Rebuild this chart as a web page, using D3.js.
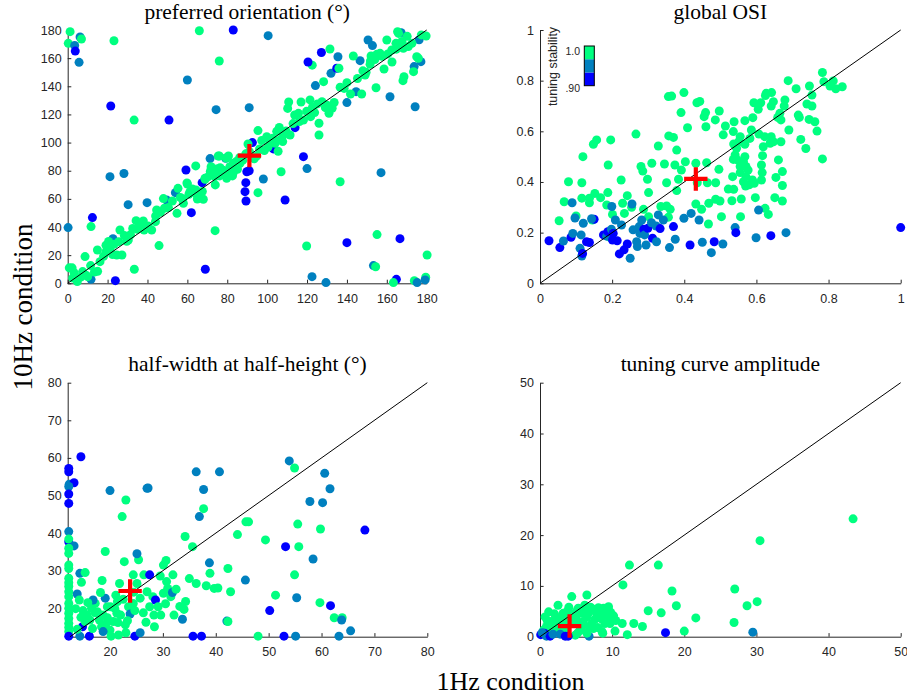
<!DOCTYPE html>
<html><head><meta charset="utf-8">
<script src="https://cdn.jsdelivr.net/npm/d3@7"></script>
<style>body{margin:0;background:#fff} svg{display:block}</style>
</head><body>
<svg id="c" width="907" height="695"></svg>
<script>
// stability bin: 0 = .90 (blue), 1 = mid, 2 = 1.0 (green)
const stabilityColors = ["#0000ff", "#0080bf", "#00ff80"];
const stabilityLabels = [".90", "1.0"];

// [1Hz value, 10Hz value, stability bin]
const prefOri = [
[1.2,178.8,2],[0.3,170.5,2],[3.5,169,1],[3.8,165,0],[6.2,175,1],[6.9,173.6,2],[5.7,157,1],[23.2,172.4,2],[66,179.5,2],[83,180,0],[100.5,176,1],[76,158,2],[60,144.5,1],[21.6,126,0],[50.8,116,0],[33.3,116,2],[74.4,123.4,1],[91,124.8,1],[21.2,75.8,1],[28.2,78,1],[30.3,55.9,1],[39.8,57.3,1],[12.4,46.7,0],[11.7,40.3,2],[0.2,39.6,1],[22.7,31.7,1],[23.9,1.9,0],[11.7,2.8,1],[33.4,10,2],[45.8,26.8,2],[73.9,37.4,2],[69,10,0],[62,50.2,0],[59.3,80.5,0],[54,64.4,1],[49.6,59.2,1],[67.4,71.5,0],[71.4,88.6,1],[89.3,71.5,0],[88.9,65.1,0],[89.4,58.5,0],[89.8,79.3,0],[91,80,0],[92.6,100,0],[98.1,74.1,1],[103.1,95.5,0],[114,110.6,0],[109,59.2,0],[95.4,64.4,2],[118.2,90,0],[120,81.5,1],[107,79.3,2],[124.2,140.5,1],[122.6,155,2],[120.5,157.3,0],[127.2,164,0],[132,149.2,1],[134.9,152.8,0],[136,152.8,2],[135.5,161,1],[131.5,166.5,2],[140,128.4,1],[144.6,136.2,1],[147.4,134.5,2],[146.6,158.2,1],[143.2,161.5,2],[150.6,172.9,1],[152.8,168.9,1],[161.6,132.6,1],[157.1,78.6,1],[136.6,72.2,2],[140,28.9,0],[119.8,26.5,2],[122.5,4.7,1],[129.5,0.5,1],[155.1,34.6,2],[153.3,12.6,1],[154.4,11.8,2],[166.6,31.7,0],[164.8,2.8,0],[163.3,0.5,2],[173.8,1.9,2],[175.2,0.5,1],[179.5,4.3,2],[179.2,2.4,1],[180.2,20.1,2],[174.2,125.5,1],[173.7,154,1],[173.4,150.4,2],[176.2,173,1],[177.1,157.5,1],[167.2,178.1,1],[165.9,177.6,2],[179.7,175.7,2],[84.8,82,0],[79.2,88.8,1],
[0.8,11,2],[2.2,11,2],[3.2,7.6,2],[4.8,1.2,2],[7.5,8.3,2],[9.2,5.7,2],[10,4.7,2],[8.7,19,2],[13.4,8,2],[15,8.5,2],[14.9,23.7,2],[16.2,15.4,2],[19.2,27,2],[19.2,22.5,2],[21.2,24.2,2],[23.2,27.7,2],[24.6,20.1,2],[27.2,20.1,2],[26.2,37.9,2],[28.4,33.9,2],[30.4,30.8,2],[32.6,39,2],[34.3,44.5,2],[34.9,38.4,2],[37.9,44.3,2],[38.3,37.9,2],[44,43.8,2],[44.6,52.1,2],[44.1,47.8,2],[48,60.2,2],[48.5,53.3,2],[54.8,49.7,2],[55.3,67.5,2],[58,56.8,2],[57.7,59.9,2],[60,70.6,2],[61.3,65.1,2],[64.2,83.4,2],[64.3,63.9,2],[65,59.9,2],[68,59.7,2],[68.9,73.9,2],[71.9,82.9,2],[73,80,2],[73.9,75.8,2],[74,69.9,2],[75.5,90.5,2],[76.4,82.2,2],[78,78.2,2],[79.7,74.6,2],[80.6,90.5,2],[82.6,76.3,2],[83,85.3,2],[85.1,81,2],[86.4,85.3,2],[90.4,99,2],[91.1,93.6,2],[94.8,90.5,2],[95.4,108.5,2],[98.6,94.3,2],[99.8,104.2,2],[101.5,100.7,2],[102.8,103,2],[105.5,93.8,2],[106.1,110.8,2],[107.8,100.7,2],[108.1,105.4,2],[109.5,108.2,2],[110.3,124.3,2],[110.8,128.8,2],[111.5,105.4,2],[113.8,119.6,2],[115.7,120.8,2],[117,128.8,2],[118.2,116,2],[121.5,130.3,2],[121.8,118.4,2],[122.7,125,2],[126,113.7,2],[126,105.4,2],[127.5,129,2],[129.2,124.8,2],[131,120.8,2],[128.3,143.3,2],[136.6,139.3,2],[140,142.6,2],[149.1,148,2],[149.6,150,2],[154.6,139,2],[152.1,161.5,2],[151.6,155.6,2],[155,162.7,2],[156.6,163.4,2],[158.6,152.3,2],[160,172.9,2],[162.5,165.8,2],[164.6,170.5,2],[166.6,169.8,2],[168.3,167,2],[170.8,168.2,2],[168.6,146.8,2],[168.1,144,2],[175.8,159.9,2],[175,161,2],[165.4,178.8,2],
[56.5,61,2],[59.8,71.3,2],[60.8,63.3,2],[62.5,67,2],[64.3,66.3,2],[65.8,62.3,2],[67.5,65.2,2],[68.8,74.6,2],[70.5,75.8,2],[71.5,79.5,2],[73.5,77.2,2],[74.6,81.3,2],[76.2,76.3,2],[77.9,80.3,2],[79.6,78.2,2],[81.3,82.8,2],[82.9,78.2,2],[84.5,86.5,2],[86.2,89.3,2],[87.8,87.5,2],[79.5,89,2],[76,90.5,2],[89.3,92,2],[93.5,88.5,2],[96.2,95.5,2],[97.3,101.5,2],[100.5,96.8,2],[104,99.5,2],[106.8,102.2,2],[104.8,108,2],[113,113.5,2],[116.2,115,2],[119.8,122.2,2],[123.8,121.3,2],[125.2,127.5,2],[130,126.5,2],[133.6,128.5,2],[132.6,124.4,2],[138.6,138.5,2],[141.8,134.5,2],[145.3,145.5,2],[148,151,2],[151.8,158,2],[154,159,2],[157.6,161.3,2],[160.5,163,2],[162.6,157.3,2],[164.8,166.4,2],[167.6,171.8,2],[170.2,175.5,2],[172.6,170.5,2],[177.3,176.5,2],[2.5,3.7,2],[6.5,4.4,2],[11.5,12.6,2],[18,19.2,2],[20.5,29.7,2],[22.5,20.5,2],[25.6,29.6,2],[29.6,29.8,2],[31.5,34.5,2],[36.5,41.8,2],[40.3,40.7,2],[42.1,37.9,2],[46.5,50.5,2],[50.5,53.8,2],[52.5,58.5,2]
];

const globalOSI = [
[0.783,0.832,2],[0.787,0.796,2],[0.813,0.799,2],[0.804,0.779,2],[0.820,0.768,2],[0.838,0.776,2],[0.688,0.8,2],[0.710,0.768,2],[0.747,0.779,2],[0.754,0.743,2],[0.627,0.75,2],[0.642,0.753,2],[0.625,0.741,2],[0.647,0.717,2],[0.641,0.7,2],[0.593,0.713,2],[0.612,0.713,2],[0.605,0.687,2],[0.679,0.724,2],[0.677,0.7,2],[0.740,0.708,2],[0.754,0.7,2],[0.716,0.664,2],[0.719,0.655,2],[0.746,0.647,2],[0.762,0.638,2],[0.768,0.601,2],[0.690,0.605,2],[0.665,0.671,2],[0.668,0.645,2],[0.659,0.655,2],[0.723,0.568,2],[0.737,0.532,2],[0.783,0.491,2],[0.399,0.753,2],[0.356,0.737,2],[0.365,0.739,2],[0.435,0.713,2],[0.443,0.718,2],[0.391,0.674,2],[0.459,0.674,2],[0.455,0.658,2],[0.409,0.614,2],[0.460,0.618,2],[0.486,0.645,2],[0.497,0.680,2],[0.514,0.621,2],[0.508,0.586,2],[0.538,0.638,2],[0.568,0.642,2],[0.590,0.654,2],[0.536,0.599,2],[0.555,0.579,2],[0.551,0.559,2],[0.568,0.549,2],[0.545,0.533,2],[0.537,0.55,2],[0.582,0.572,2],[0.607,0.589,2],[0.623,0.579,2],[0.641,0.579,2],[0.647,0.559,2],[0.668,0.559,2],[0.638,0.553,2],[0.586,0.605,2],[0.619,0.539,2],[0.617,0.504,2],[0.614,0.467,2],[0.616,0.437,2],[0.589,0.408,2],[0.594,0.395,2],[0.614,0.408,2],[0.580,0.389,2],[0.568,0.5,2],[0.564,0.48,2],[0.571,0.461,2],[0.577,0.447,2],[0.571,0.421,2],[0.564,0.401,2],[0.570,0.384,2],[0.541,0.507,2],[0.536,0.489,2],[0.547,0.487,2],[0.555,0.461,2],[0.555,0.437,2],[0.534,0.421,2],[0.522,0.372,2],[0.537,0.371,2],[0.532,0.326,2],[0.558,0.333,2],[0.556,0.263,2],[0.597,0.338,2],[0.624,0.296,2],[0.633,0.272,2],[0.651,0.338,2],[0.672,0.325,2],[0.672,0.386,2],[0.661,0.487,2],[0.672,0.441,2],[0.654,0.418,2],[0.496,0.45,2],[0.499,0.325,2],[0.487,0.332,2],[0.468,0.316,2],[0.487,0.397,2],[0.464,0.397,2],[0.462,0.476,2],[0.436,0.397,2],[0.432,0.474,2],[0.432,0.313,2],[0.448,0.292,2],[0.403,0.480,2],[0.392,0.447,2],[0.384,0.411,2],[0.379,0.366,2],[0.374,0.467,2],[0.357,0.582,2],[0.370,0.576,2],[0.379,0.526,2],[0.351,0.397,2],[0.345,0.471,2],[0.328,0.542,2],[0.310,0.474,2],[0.301,0.358,2],[0.298,0.411,2],[0.280,0.461,2],[0.285,0.443,2],[0.266,0.589,2],[0.242,0.346,2],[0.225,0.408,2],[0.229,0.316,2],[0.234,0.276,2],[0.254,0.3,2],[0.287,0.292,2],[0.335,0.303,2],[0.351,0.305,2],[0.361,0.292,2],[0.356,0.261,2],[0.467,0.234,2],[0.503,0.263,2],[0.196,0.566,2],[0.189,0.467,2],[0.188,0.358,2],[0.157,0.566,2],[0.148,0.549,2],[0.119,0.5,2],[0.116,0.397,2],[0.079,0.401,2],[0.067,0.322,2],[0.116,0.336,2],[0.137,0.318,2],[0.137,0.336,2],[0.152,0.355,2],[0.168,0.338,2],[0.185,0.309,2],[0.201,0.272,2],[0.053,0.247,2],[0.100,0.266,2],[0.145,0.25,2],[0.301,0.263,2],[0.194,0.182,2],
[0.089,0.318,1],[0.097,0.258,1],[0.120,0.237,1],[0.150,0.253,0],[0.143,0.255,1],[0.025,0.168,0],[0.055,0.141,0],[0.065,0.167,1],[0.086,0.182,0],[0.091,0.197,1],[0.111,0.138,1],[0.129,0.164,0],[0.137,0.161,0],[0.116,0.108,1],[0.118,0.118,0],[0.114,0.191,1],[0.176,0.191,0],[0.185,0.186,1],[0.188,0.204,0],[0.198,0.213,1],[0.203,0.197,0],[0.201,0.171,0],[0.214,0.168,0],[0.209,0.25,1],[0.199,0.303,1],[0.226,0.230,1],[0.220,0.116,0],[0.233,0.132,0],[0.242,0.155,0],[0.250,0.099,1],[0.255,0.313,1],[0.258,0.211,1],[0.268,0.164,1],[0.270,0.145,1],[0.275,0.224,1],[0.282,0.25,1],[0.277,0.197,1],[0.288,0.213,0],[0.290,0.191,1],[0.299,0.217,0],[0.294,0.151,1],[0.309,0.239,1],[0.312,0.178,0],[0.322,0.226,1],[0.323,0.164,1],[0.328,0.270,1],[0.333,0.216,0],[0.342,0.25,1],[0.370,0.224,0],[0.375,0.174,1],[0.359,0.141,1],[0.399,0.257,1],[0.419,0.276,1],[0.416,0.151,0],[0.441,0.25,1],[0.450,0.162,1],[0.483,0.164,0],[0.475,0.121,1],[0.507,0.155,1],[0.541,0.22,1],[0.543,0.2,0],[0.599,0.180,1],[0.606,0.289,1],[0.640,0.188,0],[0.682,0.2,1],[1.0,0.22,0]
];

const halfWidth = [
[12.2,57.2,0],[12.2,56.3,0],[12.3,53,1],[13.2,53.4,0],[12.2,52.4,1],[12.2,50.4,0],[12.2,47.9,0],[12.2,40.4,1],[12.2,37.7,0],[12.2,38.4,2],[13.2,36.6,1],[12.2,36,2],[12.2,34.6,2],[12.2,31.5,2],[12.2,30.6,2],[14.3,29.3,1],[15.3,29.5,2],[12.2,28,2],[12.2,26.8,2],[12.2,25.8,2],[12.2,24.4,2],[12.2,23.1,2],[12.2,21.3,2],[12.2,20,2],[12.2,18.7,2],[12.2,17.3,2],[12.2,16,2],[12.2,14.9,2],[12.2,13.8,2],[12.2,12.6,0],[14.5,60.3,0],[13.8,23.8,1],[14.6,26.9,2],[14.3,12.6,1],[16.1,12.6,0],[14.8,15.1,0],
[14.2,22.2,2],[14.9,19.4,2],[15.7,18.2,2],[16.2,16.9,2],[16.5,20,2],[17.2,21.3,2],[16.8,22.2,1],[17.6,19.1,2],[18,16.9,2],[18.7,18.2,2],[18.4,15.1,2],[19.2,15.8,2],[19.5,20.4,2],[19.1,22.7,1],[18.5,27.4,2],[19.1,35.1,2],[20,51.3,1],[20,14.2,2],[20.6,16.5,2],[18.7,13.8,1],[20.2,12.6,2],[21.6,12.9,2],[20.9,20,2],[21.4,21.8,2],[21.1,23.5,2],[21.8,26.6,2],[21.3,18.7,2],[22,18.2,2],[22.7,32.4,2],[22.3,44.4,2],[23,48.8,2],[22.9,15.6,2],[23,13.5,2],[23.5,20.4,2],[23.8,18.5,1],[24.4,21.3,2],[24.4,28.9,2],[25.1,26.6,2],[25.4,32.9,2],[25.1,34.5,1],[24.7,19.4,2],[24.7,12.6,0],[25.7,13.5,1],[25.7,22.7,2],[26.3,18.8,2],[26.4,28.9,2],[27.5,28.9,0],[27,24.4,2],[27.5,20.4,2],[28.1,23.1,2],[28.6,22.2,0],[27,51.9,1],[27.2,52,1],[28.4,15.1,2],[29.1,20.4,2],[29.5,28.6,2],[29.6,18.2,2],[30.1,24,2],[30.1,31.5,2],[30.6,32.7,2],[30.7,27.1,2],[30.9,25.3,2],[31.5,23.1,2],[31.8,24.2,1],[31.9,28.9,2],[32.1,18.2,2],[32.5,25.1,2],[34,19.7,2],[34.3,21.8,2],[33.7,17.1,1],[34.2,39.1,2],[35,27.9,2],[35.6,36.4,2],[36.3,26.6,2],[36.3,56.3,1],[36.9,44.4,1],[37.7,51.6,1],[37.7,46.5,2],[38.2,26,2],[38.8,32.1,1],[38.9,29.3,2],[39.7,25.3,2],[40.4,25.4,2],[40.7,56.3,1],[42.3,30.6,2],[42.8,24.4,2],[42.1,16.6,1],[42.3,16.5,2],[44.1,39.6,2],[45.6,27.5,1],[45.7,43,2],[46.2,43,2],[48,12.6,2],[49.4,38.2,2],[50.2,19.4,0],[51.3,23.5,2],[52.9,12.6,0],[53.2,36.4,0],[53.9,59.2,1],[54.9,57.3,2],[54.9,28.9,2],[55.5,42.4,2],[55.7,36.4,2],[55.3,22.8,1],[55.1,12.6,1],[57.8,48.4,1],[58.4,33.1,1],[59.8,41.1,2],[59.7,21.5,2],[60.2,48.1,1],[60.6,55.9,1],[61.6,51.8,1],[61.7,20.7,0],[62.4,17.5,2],[63.9,17.5,2],[63.8,16.9,1],[63.3,12.6,1],[65.5,14,1],[68.2,40.8,0],[35.7,12.6,0],[37.3,12.6,0],
[20.1,20.4,2],[21.5,16.2,2],[19.5,17.5,2],[17.2,18.8,2],[16.7,14.6,2],[15.3,16.5,2],[13.8,14.4,2],[14.5,17.6,2],[13.5,19.9,2],[15.8,21.5,2],[18.2,24.2,2],[23.3,16.7,2],[26.8,16.3,2],[28.3,18.2,2],[30.5,21.2,2],[33.2,20.5,2],[24.5,24.3,2],[22.5,22.4,2]
];

const amplitude = [
[43.4,23.2,2],[30.5,18.9,2],[12.4,14.1,2],[16.4,14.1,2],[11.5,10.2,2],[18.3,9,2],[27,9.4,2],[18.9,6.1,2],[28.7,6.1,2],[30.1,6.9,2],[15,5.1,2],[16.8,4.7,2],[21.6,3.7,2],[26.9,2.8,2],[20,1.1,2],[17.4,0.8,0],[29.5,0.9,1],[14.2,2,2],[13,2.6,2],[11.4,2.6,2],[10.4,1.1,2],[12.1,0.4,2],[8.7,0.7,2],[6.8,0.1,1],[6.5,8.2,2],[4.4,7.9,2],[6.2,6.2,2],[2.5,6.2,2],[1.2,4.9,2],[10.2,4.1,2],[9.5,5.9,2],[8.8,5.6,2],[8.1,5.7,2],[7.4,5.4,2],[7.9,4.3,2],[9,2.6,2],[9.7,2.6,2],[7.2,2.6,2],[7.4,1.6,2],[6.5,3.9,2],[5.8,4.6,2],[5.3,5.6,2],[4.9,2.6,2],[4.9,0.3,2],[4.2,3.9,2],[3.7,4.9,2],[3,3.9,2],[2.8,2.6,2],[2.2,3.6,2],[1.6,3,2],[0.9,2,2],[0.5,1.3,2],[1.8,1.3,2],[3.5,2,2],[5.8,2,2],[6.5,0.7,2],[0.7,3.9,2],
[1.0,3.2,2],[1.5,2.2,2],[2.0,4.5,2],[2.5,1.8,2],[3.2,4.6,2],[3.8,3.2,2],[4.5,4.4,2],[5.0,3.6,2],[5.5,1.2,2],[6.0,3.0,2],[6.8,4.8,2],[7.6,3.4,2],[8.3,4.8,2],[8.5,3.5,2],[9.2,4.5,2],[9.6,3.8,2],[10.5,3.2,2],[8.0,1.8,2],[6.8,2.0,2],[3.0,1.2,2],[2.2,2.8,2],[4.0,5.8,2],[5.0,4.9,2],[7.0,5.8,2],[8.6,1.0,2],[9.8,4.8,2],[1.3,1.7,2],[3.6,0.8,2],[5.2,0.7,2],[6.1,5.3,2],
[0.1,0.4,0],[0.6,0.7,0],[0.9,0.1,1],[1.4,0.1,0],[1.8,0.5,1],[2.8,0.5,1],[3.5,0.1,0],[3.9,0.1,0],[0.3,0.8,1]
];

// population medians (1Hz, 10Hz)
const medians = [[91.1,90.7],[0.432,0.412],[23.8,24.6],[4.1,2.1]];

const titles = ["preferred orientation (°)", "global OSI", "half-width at half-height (°)", "tuning curve amplitude"];
const ticksPO = [0,20,40,60,80,100,120,140,160,180];
const ticksOSI = [0,0.2,0.4,0.6,0.8,1];
const ticksHW = [20,30,40,50,60,70,80];
const ticksAmp = [0,10,20,30,40,50];

const svg = d3.select("#c");
const AX = "#262626";
const SERIF = "'Liberation Serif', 'Times New Roman', serif";
const SANS = "'Liberation Sans', Arial, sans-serif";

const panels = [
  {title:titles[0], data:prefOri, xd:[0,180], yd:[0,180], xt:ticksPO, yt:ticksPO, r:[67.7,30,426.7,283.3], med:medians[0]},
  {title:titles[1], data:globalOSI, xd:[0,1], yd:[0,1], xt:ticksOSI, yt:ticksOSI, r:[540,30,900.7,283.3], med:medians[1]},
  {title:titles[2], data:halfWidth, xd:[12,80], yd:[12.45,80], xt:ticksHW, yt:ticksHW, r:[67.7,382.7,427.3,636.7], med:medians[2]},
  {title:titles[3], data:amplitude, xd:[0,50], yd:[0,50], xt:ticksAmp, yt:ticksAmp, r:[540,382.7,900.7,636.7], med:medians[3]}
];

function styleAxis(g){
  g.attr("font-family",SANS).attr("font-size",12.5);
  g.select(".domain").attr("stroke",AX).attr("stroke-width",1);
  g.selectAll(".tick line").attr("stroke",AX).attr("stroke-width",1);
  g.selectAll(".tick text").attr("fill",AX);
}

panels.forEach(p => {
  const x = d3.scaleLinear().domain(p.xd).range([p.r[0], p.r[2]]);
  const y = d3.scaleLinear().domain(p.yd).range([p.r[3], p.r[1]]);
  const g = svg.append("g");

  g.append("g").attr("transform",`translate(0,${p.r[3]})`)
    .call(d3.axisBottom(x).tickValues(p.xt).tickSizeInner(-3.6).tickSizeOuter(0).tickPadding(10.5).tickFormat(d=>String(d)))
    .call(styleAxis);
  g.append("g").attr("transform",`translate(${p.r[0]},0)`)
    .call(d3.axisLeft(y).tickValues(p.yt).tickSizeInner(-3.6).tickSizeOuter(0).tickPadding(6).tickFormat(d=>String(d)))
    .call(styleAxis);

  g.append("g").selectAll("circle").data(p.data).join("circle")
    .attr("cx", d=>x(d[0])).attr("cy", d=>y(d[1])).attr("r",4.5)
    .attr("fill", d=>stabilityColors[d[2]]);

  const lo = Math.max(p.xd[0], p.yd[0]), hi = Math.min(p.xd[1], p.yd[1]);
  g.append("line").attr("x1",x(lo)).attr("y1",y(lo)).attr("x2",x(hi)).attr("y2",y(hi))
    .attr("stroke","#000").attr("stroke-width",1);

  const cx = x(p.med[0]), cy = y(p.med[1]), h = 11.7;
  g.append("path").attr("d",`M${cx-h},${cy}H${cx+h}M${cx},${cy-h}V${cy+h}`)
    .attr("stroke","#ff0000").attr("stroke-width",4.2).attr("fill","none");

  g.append("text").attr("x",(p.r[0]+p.r[2])/2).attr("y",p.r[1]-11.5)
    .attr("text-anchor","middle").attr("font-family",SERIF)
    .attr("font-size",21.5).attr("fill","#000").text(p.title);
});

// colorbar
const cb = {x:584.3, y0:46, y1:85.7, w:10};
const cbScale = d3.scaleLinear().domain([0.9,1.0]).range([cb.y1, cb.y0]);
const bins = [0.9, 0.9333, 0.9667, 1.0];
const cbg = svg.append("g");
cbg.selectAll("rect.seg").data(d3.range(3)).join("rect").attr("class","seg")
  .attr("x",cb.x).attr("width",cb.w)
  .attr("y", i=>cbScale(bins[i+1])).attr("height", i=>cbScale(bins[i])-cbScale(bins[i+1]))
  .attr("fill", i=>stabilityColors[i]);
cbg.append("rect").attr("x",cb.x).attr("y",cb.y0).attr("width",cb.w).attr("height",cb.y1-cb.y0)
  .attr("fill","none").attr("stroke","#000").attr("stroke-width",1);
cbg.append("text").attr("x",580).attr("y",cbScale(1.0)+6).attr("text-anchor","end")
  .attr("dominant-baseline","middle").attr("font-family",SANS)
  .attr("font-size",10.5).attr("fill",AX).text(stabilityLabels[1]);
cbg.append("text").attr("x",580).attr("y",cbScale(0.9)+3.5).attr("text-anchor","end")
  .attr("dominant-baseline","middle").attr("font-family",SANS)
  .attr("font-size",10.5).attr("fill",AX).text(stabilityLabels[0]);
cbg.append("text").attr("transform","translate(556.5,66.5) rotate(-90)").attr("text-anchor","middle")
  .attr("font-family",SANS).attr("font-size",12.5).attr("fill",AX)
  .text("tuning stability");

// shared axis labels
svg.append("text").attr("x",510.5).attr("y",690).attr("text-anchor","middle")
  .attr("font-family",SERIF).attr("font-size",26).attr("fill","#000")
  .text("1Hz condition");
svg.append("text").attr("transform","translate(32,307) rotate(-90)").attr("text-anchor","middle")
  .attr("font-family",SERIF).attr("font-size",27).attr("fill","#000")
  .text("10Hz condition");
</script>
</body></html>
